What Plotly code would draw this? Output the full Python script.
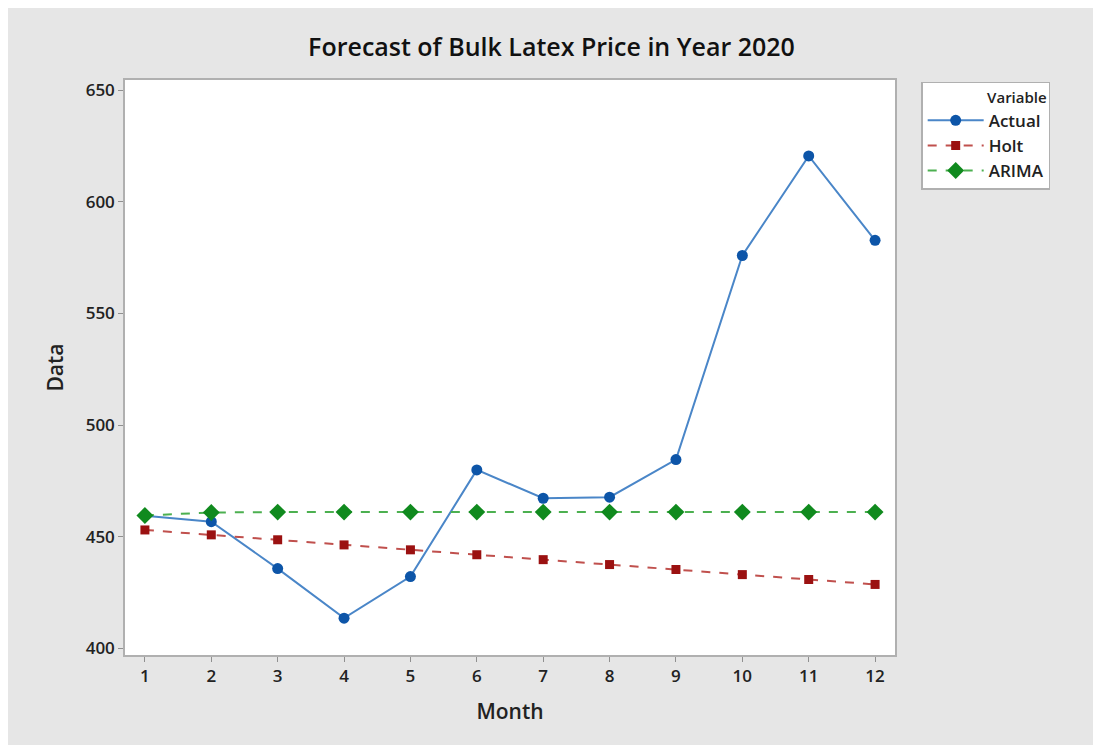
import plotly.graph_objects as go

months = list(range(1, 13))
actual = [459.4, 456.7, 435.7, 413.5, 432.1, 479.9, 467.2, 467.7, 484.5, 575.9, 620.5, 582.7]
holt = [453.0, 450.8, 448.6, 446.3, 444.1, 441.9, 439.7, 437.5, 435.3, 433.0, 430.8, 428.6]
arima = [459.5, 460.8, 461.0, 461.0, 461.0, 461.0, 461.0, 461.0, 461.0, 461.0, 461.0, 461.0]

FONT = "Open Sans"

fig = go.Figure()
fig.add_trace(go.Scatter(
    x=months, y=actual, name="Actual", mode="lines+markers",
    line=dict(color="#4a86c8", width=2),
    marker=dict(symbol="circle", size=11, color="#0d55a8"),
))
fig.add_trace(go.Scatter(
    x=months, y=holt, name="Holt", mode="lines+markers",
    line=dict(color="#c0504d", width=2, dash="dash"),
    marker=dict(symbol="square", size=9, color="#9b1111"),
))
fig.add_trace(go.Scatter(
    x=months, y=arima, name="ARIMA", mode="lines+markers",
    line=dict(color="#4cb050", width=2, dash="dash"),
    marker=dict(symbol="diamond", size=13, color="#108a1e"),
))

axis_style = dict(
    showgrid=False, zeroline=False, showline=True, linecolor="#b0b0b0",
    linewidth=1.5, mirror=True, ticks="outside", ticklen=5, tickcolor="#909090",
    tickfont=dict(size=17, color="#222222", weight=600),
)
fig.update_layout(
    width=1087, height=737,
    paper_bgcolor="#e6e6e6", plot_bgcolor="white",
    font=dict(family=FONT, color="#222222"),
    title=dict(text="Forecast of Bulk Latex Price in Year 2020", x=0.5, xanchor="center",
               y=0.947, yanchor="middle", font=dict(size=25, color="#111111", weight=600)),
    margin=dict(l=117, r=200, t=72, b=90),
    xaxis=dict(title=dict(text="Month", font=dict(size=21, weight=600), standoff=18),
               range=[0.7, 12.3], tickvals=months, **axis_style),
    yaxis=dict(title=dict(text="Data", font=dict(size=21, weight=600), standoff=16),
               range=[397, 654.5], tickvals=[400, 450, 500, 550, 600, 650], **axis_style),
    legend=dict(
        title=dict(text="Variable", font=dict(size=15, weight=600), side="top right"),
        x=1.034, xanchor="left", y=0.997, yanchor="top",
        bgcolor="white", bordercolor="#b0b0b0", borderwidth=1.5,
        font=dict(size=17, weight=600), itemwidth=56, tracegroupgap=0,
    ),
)
fig.write_html("out.html")
